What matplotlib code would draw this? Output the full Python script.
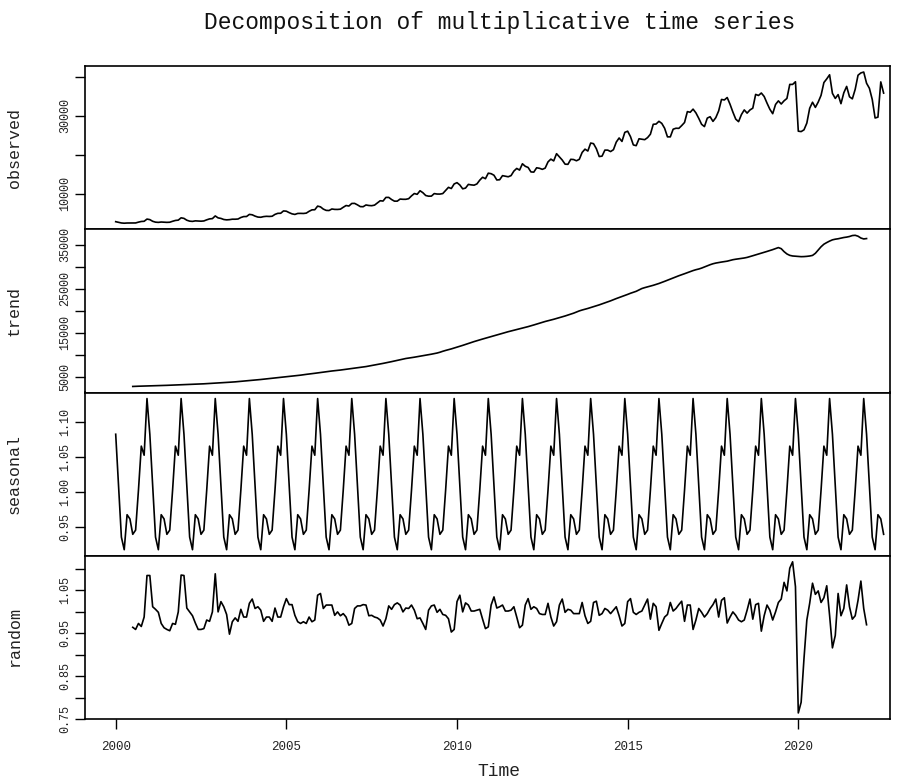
import numpy as np
import matplotlib.pyplot as plt

# monthly series, Jan 2000 .. Jul 2022
start_year = 2000
observed = [
    2890, 2720, 2560, 2500, 2550, 2550, 2545, 2563, 2774, 2943, 2991, 3558,
    3417, 2990, 2770, 2713, 2802, 2772, 2717, 2750, 2995, 3205, 3290, 3880,
    3736, 3267, 3027, 2967, 3101, 3059, 3018, 3077, 3367, 3605, 3680, 4362,
    3864, 3728, 3450, 3356, 3409, 3527, 3523, 3575, 3961, 4201, 4215, 4759,
    4658, 4316, 4074, 4022, 4190, 4267, 4232, 4284, 4760, 5031, 5046, 5650,
    5580, 5208, 4896, 4751, 5003, 5020, 4996, 5082, 5552, 5919, 5954, 6885,
    6693, 6115, 5789, 5753, 6146, 6041, 6029, 6097, 6584, 7034, 6906, 7565,
    7581, 7203, 6759, 6730, 7177, 7041, 6991, 7132, 7680, 8260, 8180, 9113,
    9117, 8572, 8158, 8158, 8693, 8632, 8629, 8787, 9509, 10112, 9911, 10825,
    10325, 9604, 9427, 9447, 10096, 9977, 9969, 10104, 10893, 11698, 11395, 12569,
    12900, 12300, 11322, 11510, 12455, 12330, 12252, 12569, 13537, 14285, 13911, 15330,
    15200, 14800, 13588, 13649, 14697, 14565, 14408, 14705, 15865, 16546, 16128, 17740,
    17100, 16800, 15650, 15603, 16715, 16584, 16315, 16630, 18227, 18934, 18477, 20334,
    19500, 18700, 17640, 17600, 18886, 18827, 18513, 18886, 20653, 21491, 21012, 23060,
    22900, 21600, 19601, 19701, 21250, 21243, 20878, 21352, 23307, 24360, 23475, 25801,
    26100, 24700, 22577, 22387, 24155, 24054, 23925, 24451, 25327, 27869, 27937, 28635,
    28100, 26850, 24645, 24646, 26610, 26857, 26827, 27539, 28333, 31119, 30959, 31757,
    30800, 29400, 27864, 27278, 29459, 29808, 28611, 29580, 31300, 34240, 34108, 34734,
    33000, 31000, 29194, 28542, 30359, 31556, 30734, 31542, 32005, 35534, 35260, 35893,
    35000, 33300, 31726, 30586, 32956, 33878, 33073, 33896, 34495, 38104, 38094, 38777,
    26100, 26000, 26450, 28178, 31973, 33526, 32203, 33571, 35295, 38576, 39514, 40566,
    35800, 34500, 35484, 33153, 35945, 37586, 34925, 34395, 36833, 40454, 41043, 41269,
    38400, 37100, 34233, 29483, 29700, 38742, 35870,
]

# seasonal figure, Jan .. Dec
seasonal_figure = [1.083, 1.010, 0.936, 0.918, 0.968, 0.962,
                   0.940, 0.946, 1.003, 1.066, 1.053, 1.134]

# random component, Jul 2000 .. Jan 2022
random_part = [
    0.964, 0.959, 0.973, 0.966, 0.988, 1.085,
    1.085, 1.012, 1.006, 0.999, 0.973, 0.963, 0.959, 0.956, 0.973, 0.971, 1.000, 1.086,
    1.085, 1.009, 1.000, 0.991, 0.974, 0.959, 0.959, 0.961, 0.981, 0.978, 1.000, 1.089,
    1.000, 1.024, 1.012, 0.994, 0.948, 0.977, 0.986, 0.978, 1.006, 0.988, 0.988, 1.020,
    1.030, 1.008, 1.012, 1.004, 0.978, 0.988, 0.988, 0.978, 1.009, 0.988, 0.988, 1.012,
    1.031, 1.017, 1.017, 0.992, 0.977, 0.973, 0.977, 0.973, 0.988, 0.977, 0.981, 1.039,
    1.043, 1.008, 1.016, 1.016, 1.016, 0.992, 1.000, 0.991, 0.996, 0.988, 0.969, 0.973,
    1.008, 1.014, 1.014, 1.017, 1.016, 0.991, 0.992, 0.988, 0.986, 0.981, 0.967, 0.984,
    1.014, 1.006, 1.017, 1.021, 1.016, 1.000, 1.009, 1.008, 1.016, 1.004, 0.984, 0.986,
    0.973, 0.959, 1.004, 1.014, 1.016, 0.999, 1.006, 0.994, 0.992, 0.984, 0.953, 0.959,
    1.024, 1.039, 1.000, 1.021, 1.016, 1.002, 1.002, 1.004, 1.006, 0.983, 0.961, 0.965,
    1.016, 1.035, 1.009, 1.012, 1.016, 1.002, 1.002, 1.004, 1.012, 0.988, 0.963, 0.969,
    1.016, 1.031, 1.006, 1.012, 1.008, 0.996, 0.994, 0.994, 1.020, 0.988, 0.967, 0.977,
    1.016, 1.030, 0.999, 1.006, 1.004, 0.996, 0.996, 0.996, 1.022, 0.991, 0.973, 0.978,
    1.022, 1.025, 0.992, 0.996, 1.008, 1.004, 0.996, 1.004, 1.012, 0.991, 0.967, 0.973,
    1.024, 1.031, 0.999, 0.994, 0.999, 1.002, 1.016, 1.030, 0.983, 1.020, 1.012, 0.957,
    0.973, 0.988, 0.994, 1.022, 1.002, 1.008, 1.017, 1.025, 0.978, 1.016, 1.016, 0.959,
    0.981, 1.008, 0.999, 0.988, 0.996, 1.008, 1.017, 1.030, 0.988, 1.027, 1.033, 0.974,
    0.988, 1.000, 0.992, 0.981, 0.977, 0.981, 1.004, 1.030, 0.983, 1.017, 1.020, 0.955,
    0.991, 1.016, 1.004, 0.981, 1.000, 1.022, 1.030, 1.069, 1.049, 1.102, 1.117, 1.059,
    0.764, 0.789, 0.891, 0.981, 1.020, 1.067, 1.041, 1.049, 1.022, 1.033, 1.061, 0.992,
    0.916, 0.945, 1.043, 0.991, 1.008, 1.063, 1.012, 0.983, 0.991, 1.027, 1.072, 1.008,
    0.970,
]

FONT = 'Liberation Mono'

n = len(observed)
time = start_year + np.arange(n) / 12.0
obs = np.array(observed, dtype=float)

# trend: centred 2x12 moving average, the filter decompose() uses
w = np.r_[0.5, np.ones(11), 0.5] / 12.0
trend = np.full(n, np.nan)
trend[6:n - 6] = np.convolve(obs, w, mode='valid')

seasonal = np.resize(np.array(seasonal_figure), n)
rnd = np.full(n, np.nan)
rnd[6:6 + len(random_part)] = random_part


def r_lim(v):
    lo, hi = np.nanmin(v), np.nanmax(v)
    pad = 0.04 * (hi - lo)
    return lo - pad, hi + pad


W, H = 902, 780
fig = plt.figure(figsize=(W / 100, H / 100), dpi=100)

left_px, right_px = 85.3, 890
top_px, bot_px = 66, 719
ph = (bot_px - top_px) / 4
# x scale: 2000 at 115.7 px, 34.13 px per year
x0 = 2000 + (left_px - 115.7) / 34.13
x1 = 2000 + (right_px - 115.7) / 34.13

panels = [
    ('observed', obs, [10000, 20000, 30000, 40000], ['10000', '', '30000', '']),
    ('trend', trend, [5000, 10000, 15000, 20000, 25000, 30000, 35000],
     ['5000', '', '15000', '', '25000', '', '35000']),
    ('seasonal', seasonal, [0.95, 1.00, 1.05, 1.10], ['0.95', '1.00', '1.05', '1.10']),
    ('random', rnd, [0.75, 0.80, 0.85, 0.90, 0.95, 1.00, 1.05, 1.10],
     ['0.75', '', '0.85', '', '0.95', '', '1.05', '']),
]

for i, (name, y, ticks, labels) in enumerate(panels):
    top = top_px + i * ph
    ax = fig.add_axes([left_px / W, 1 - (top + ph) / H,
                       (right_px - left_px) / W, ph / H])
    ax.plot(time, y, color='black', lw=1.2)
    ax.set_xlim(x0, x1)
    ax.set_ylim(*r_lim(y))
    ax.set_yticks(ticks)
    ax.set_yticklabels(labels, rotation=90, va='center', family=FONT, fontsize=8.5,
                       color='#222222')
    ax.tick_params(axis='y', direction='out', length=7, width=1, pad=3)
    ax.set_ylabel(name, family=FONT, fontsize=12, color='#222222')
    ax.yaxis.set_label_coords((22 - left_px) / (right_px - left_px), 0.5)
    for s in ax.spines.values():
        s.set_linewidth(1.2)
    if i < 3:
        ax.tick_params(axis='x', bottom=False, labelbottom=False)
    else:
        ax.set_xticks([2000, 2005, 2010, 2015, 2020])
        ax.set_xticklabels(['2000', '2005', '2010', '2015', '2020'],
                           family=FONT, fontsize=9, color='#222222')
        ax.tick_params(axis='x', direction='out', length=7, width=1, pad=9)

fig.text(499.5 / W, 1 - 22 / H, 'Decomposition of multiplicative time series',
         ha='center', va='center', family=FONT, fontsize=16.5, color='#111111')
fig.text(499 / W, 1 - 771 / H, 'Time', ha='center', va='center',
         family=FONT, fontsize=13, color='#222222')

fig.savefig('out.png', dpi=100, facecolor='white')
